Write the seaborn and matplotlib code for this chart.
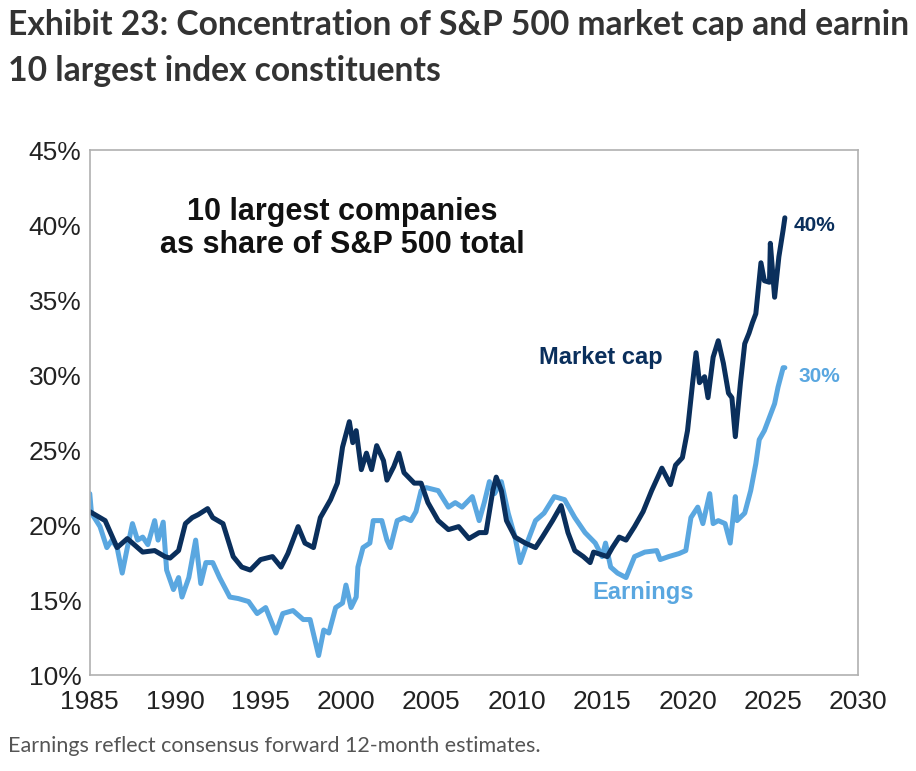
import pandas as pd
import matplotlib.pyplot as plt
import seaborn as sns

# 10 largest companies as share of S&P 500 total (%)
mcap_years = [1985.0, 1985.9, 1986.6, 1987.2, 1988.1, 1988.8, 1989.4, 1989.7, 1990.2, 1990.6,
              1991.0, 1991.35, 1991.9, 1992.2, 1992.8, 1993.4, 1993.9, 1994.4, 1995.0, 1995.7,
              1996.2, 1996.6, 1997.2, 1997.6, 1998.1, 1998.5, 1999.1, 1999.5, 1999.8, 2000.2,
              2000.4, 2000.6, 2000.9, 2001.2, 2001.5, 2001.8, 2002.2, 2002.4, 2002.8, 2003.1,
              2003.4, 2004.0, 2004.4, 2004.8, 2005.4, 2006.0, 2006.6, 2007.2, 2007.8, 2008.2,
              2008.6, 2008.8, 2009.1, 2009.4, 2009.9, 2010.5, 2011.1, 2011.5, 2012.1, 2012.6,
              2013.0, 2013.4, 2013.9, 2014.3, 2014.5, 2015.3, 2015.6, 2016.0, 2016.4, 2016.9,
              2017.4, 2017.9, 2018.5, 2019.0, 2019.3, 2019.7, 2020.0, 2020.3, 2020.5, 2020.7,
              2021.0, 2021.2, 2021.5, 2021.8, 2022.1, 2022.4, 2022.6, 2022.8, 2023.1, 2023.35,
              2023.6, 2023.8, 2024.0, 2024.3, 2024.5, 2024.8, 2024.85, 2025.1, 2025.35, 2025.6,
              2025.7]
mcap_vals = [20.9, 20.3, 18.5, 19.1, 18.2, 18.3, 17.9, 17.8, 18.3, 20.1,
             20.5, 20.7, 21.1, 20.5, 20.1, 17.9, 17.2, 17.0, 17.7, 17.9,
             17.2, 18.1, 19.9, 18.8, 18.5, 20.5, 21.7, 22.8, 25.2, 26.9,
             25.5, 26.3, 23.7, 24.8, 23.7, 25.3, 24.3, 23.0, 23.9, 24.8,
             23.5, 22.8, 22.8, 21.5, 20.3, 19.7, 19.9, 19.1, 19.5, 19.5,
             22.3, 23.2, 22.3, 20.3, 19.2, 18.8, 18.5, 19.2, 20.3, 21.3,
             19.5, 18.3, 17.9, 17.5, 18.2, 17.9, 18.5, 19.2, 19.0, 19.9,
             20.9, 22.3, 23.8, 22.7, 24.0, 24.5, 26.3, 29.5, 31.5, 29.5,
             29.9, 28.5, 31.2, 32.3, 30.8, 28.8, 28.5, 25.9, 29.5, 32.1,
             32.8, 33.5, 34.1, 37.5, 36.3, 36.2, 38.8, 35.2, 37.9, 39.7,
             40.5]

earn_years = [1985.0, 1985.1, 1985.6, 1986.0, 1986.3, 1986.6, 1986.9, 1987.2, 1987.5, 1987.8,
              1988.1, 1988.4, 1988.8, 1989.0, 1989.3, 1989.5, 1989.9, 1990.2, 1990.4, 1990.8,
              1991.2, 1991.5, 1991.8, 1992.2, 1992.6, 1993.2, 1993.7, 1994.3, 1994.8, 1995.3,
              1995.9, 1996.3, 1996.9, 1997.5, 1997.9, 1998.4, 1998.7, 1999.0, 1999.4, 1999.8,
              2000.0, 2000.3, 2000.6, 2000.7, 2001.0, 2001.4, 2001.6, 2002.1, 2002.4, 2002.6,
              2003.0, 2003.4, 2003.8, 2004.1, 2004.4, 2004.7, 2005.4, 2006.0, 2006.4, 2006.8,
              2007.4, 2007.8, 2008.1, 2008.4, 2008.7, 2009.1, 2009.5, 2009.9, 2010.2, 2010.6,
              2011.1, 2011.6, 2012.2, 2012.8, 2013.4, 2014.0, 2014.6, 2015.0, 2015.2, 2015.5,
              2015.9, 2016.4, 2016.9, 2017.5, 2018.2, 2018.4, 2018.9, 2019.5, 2019.9, 2020.2,
              2020.6, 2020.9, 2021.3, 2021.5, 2021.8, 2022.2, 2022.5, 2022.8, 2022.9, 2023.35,
              2023.7, 2024.0, 2024.2, 2024.5, 2024.8, 2025.1, 2025.3, 2025.6, 2025.7]
earn_vals = [22.1, 20.8, 19.9, 18.5, 19.0, 18.5, 16.8, 18.5, 20.1, 19.0,
             19.2, 18.7, 20.3, 19.0, 20.2, 17.0, 15.7, 16.5, 15.2, 16.5,
             19.0, 16.1, 17.5, 17.5, 16.5, 15.2, 15.1, 14.9, 14.1, 14.5,
             12.8, 14.1, 14.3, 13.7, 13.7, 11.3, 13.0, 12.8, 14.5, 14.8,
             16.0, 14.5, 15.2, 17.2, 18.5, 18.8, 20.3, 20.3, 19.0, 18.5,
             20.3, 20.5, 20.3, 20.9, 22.3, 22.5, 22.3, 21.2, 21.5, 21.2,
             21.9, 20.3, 21.5, 22.9, 22.1, 22.9, 20.8, 19.2, 17.5, 18.8,
             20.3, 20.8, 21.9, 21.7, 20.5, 19.5, 18.8, 17.9, 18.8, 17.2,
             16.8, 16.5, 17.9, 18.2, 18.3, 17.7, 17.9, 18.1, 18.3, 20.5,
             21.2, 20.1, 22.1, 20.1, 20.3, 20.1, 18.8, 21.9, 20.3, 20.8,
             22.3, 24.1, 25.7, 26.3, 27.2, 28.1, 29.2, 30.5, 30.5]

x_ticks = list(range(1985, 2031, 5))
y_ticks = list(range(10, 46, 5))

DARK = '#0a2f5c'
LIGHT = '#5aa7e0'

sns.set_style('white')
plt.rcParams['font.family'] = ['Liberation Sans', 'DejaVu Sans']

mcap = pd.DataFrame({'year': mcap_years, 'share': mcap_vals})
earn = pd.DataFrame({'year': earn_years, 'share': earn_vals})

fig = plt.figure(figsize=(9.16, 7.71), dpi=100)
ax = fig.add_axes([0.098, 0.1245, 0.839, 0.6805])

sns.lineplot(data=earn, x='year', y='share', color=LIGHT, linewidth=3.6, ax=ax,
             solid_joinstyle='round', solid_capstyle='round')
sns.lineplot(data=mcap, x='year', y='share', color=DARK, linewidth=3.6, ax=ax,
             solid_joinstyle='round', solid_capstyle='round')

ax.set_xlim(1985, 2030)
ax.set_ylim(10, 45)
ax.set_xticks(x_ticks)
ax.set_yticks(y_ticks)
ax.set_yticklabels([f'{v}%' for v in y_ticks])
ax.set_xlabel('')
ax.set_ylabel('')
ax.tick_params(axis='x', direction='out', length=7, width=1, color='#999999',
               labelsize=19, labelcolor='#222222', pad=4)
ax.tick_params(axis='y', length=0, labelsize=19, labelcolor='#222222', pad=6)
for s in ax.spines.values():
    s.set_color('#b0b0b0')
    s.set_linewidth(1.2)

# in-chart labels
ax.text(1999.8, 39.8, '10 largest companies\nas share of S&P 500 total', ha='center',
        va='center', fontsize=22, fontweight='bold', color='#111111', linespacing=1.15)
ax.text(2014.9, 31.2, 'Market cap', ha='center', va='center', fontsize=17,
        fontweight='bold', color=DARK)
ax.text(2017.4, 15.5, 'Earnings', ha='center', va='center', fontsize=17,
        fontweight='bold', color=LIGHT)
ax.text(2026.2, 40.0, '40%', ha='left', va='center', fontsize=15,
        fontweight='bold', color=DARK)
ax.text(2026.5, 29.9, '30%', ha='left', va='center', fontsize=15,
        fontweight='bold', color=LIGHT)

# the title is cut off at the right edge in the source, keep the visible part
fig.text(0.009, 0.968, 'Exhibit 23: Concentration of S&P 500 market cap and earnin',
         ha='left', va='center', fontsize=24.2, fontweight='bold', color='#333333',
         family=['Lato', 'DejaVu Sans'])
fig.text(0.009, 0.908, '10 largest index constituents', ha='left', va='center',
         fontsize=24.2, fontweight='bold', color='#333333', family=['Lato', 'DejaVu Sans'])
fig.text(0.009, 0.033, 'Earnings reflect consensus forward 12-month estimates.', ha='left',
         va='center', fontsize=15.5, color='#555555', family=['Lato', 'DejaVu Sans'])

fig.savefig('out.png', dpi=100, facecolor='white')
